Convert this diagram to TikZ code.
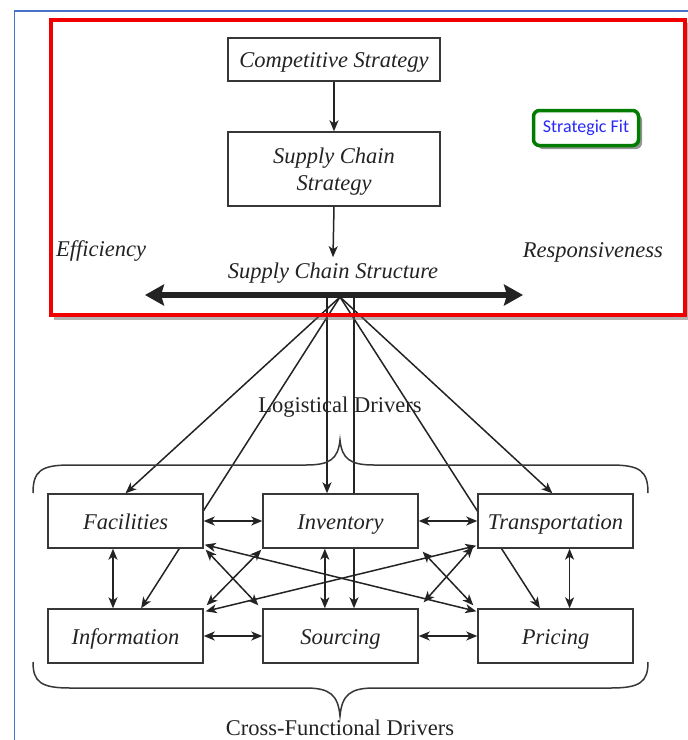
\documentclass[tikz,border=0pt]{standalone}
\usepackage{fontspec}
\setmainfont{Liberation Serif}
\newfontfamily\uifont{Carlito}
\usetikzlibrary{arrows.meta,calc,shadows}

\definecolor{ink}{RGB}{35,35,35}
\definecolor{boxline}{RGB}{55,55,55}
\definecolor{framered}{RGB}{240,0,0}
\definecolor{fitgreen}{RGB}{0,125,0}
\definecolor{fittext}{RGB}{40,40,250}
\definecolor{pageblue}{RGB}{70,115,200}

\pgfdeclarelayer{bg}
\pgfsetlayers{bg,main}

\begin{document}
\begin{tikzpicture}[x=1pt,y=-1pt,
  plain/.style={font=\fontsize{22.5}{27}\selectfont, text=ink, inner sep=2pt},
  slanted/.style={font=\fontsize{22.5}{27}\selectfont\itshape, text=ink, inner sep=2pt},
  box/.style={slanted, draw=boxline, line width=1.4pt, fill=white,
    minimum width=155pt, minimum height=54pt, inner sep=0pt,
    text height=16pt, text depth=0pt},
  conn/.style={draw=ink, line width=1.5pt},
  onehead/.style={-{Stealth[length=11pt,width=9pt,inset=3pt]}},
  twohead/.style={{Stealth[length=11pt,width=9pt,inset=3pt]}-{Stealth[length=11pt,width=9pt,inset=3pt]}},
  brace/.style={draw=boxline, line width=1.5pt},
]
\useasboundingbox (0,0) rectangle (688,740);

% page frame
\draw[pageblue, line width=1.5pt] (14.5,740) -- (14.5,11) -- (688,11);

% strategy block
\draw[black!60, opacity=0.5, line width=3pt] (54,318) -- (688,318) -- (688,23);
\draw[framered, line width=4pt] (51,20) rectangle (685,315);

\node[box, minimum width=212pt, minimum height=43pt] (cs) at (334,59.5) {Competitive Strategy};
\node[box, minimum width=212pt, minimum height=74pt, align=center,
  text height=43pt, text depth=0pt] (scs) at (334,169) {Supply Chain\\Strategy};
\node[slanted, anchor=base] (scst) at (333,278) {Supply Chain Structure};
\node[slanted, anchor=base west] (eff) at (54,256) {Efficiency};
\node[slanted, anchor=base east] (resp) at (665,257) {Responsiveness};

\node[draw=fitgreen, line width=3.5pt, rounded corners=6pt, fill=white,
  minimum width=105pt, minimum height=35pt, inner sep=0pt,
  font=\uifont\fontsize{18}{20}\selectfont, text=fittext,
  drop shadow={shadow xshift=3.5pt, shadow yshift=-3.5pt, fill=black!70, opacity=0.6}]
  (fit) at (586,128) {Strategic Fit};

\draw[conn, onehead] (cs) -- (scs);
\draw[conn, onehead] (scs.south) -- ([yshift=3pt]scst.north);

% efficiency / responsiveness axis
\coordinate (effEnd) at (145,295);
\coordinate (respEnd) at (523,295);
\draw[draw=ink, line width=6pt,
  {Stealth[length=19pt,width=21pt,inset=3pt]}-{Stealth[length=19pt,width=21pt,inset=3pt]}]
  (effEnd) -- (respEnd);

% drivers
\node[box] (fac)  at (125.5,521) {Facilities};
\node[box] (inv)  at (340.5,521) {Inventory};
\node[box] (tra)  at (555.5,521) {Transportation};
\node[box] (info) at (125.5,636) {Information};
\node[box] (sou)  at (340.5,636) {Sourcing};
\node[box] (pri)  at (555.5,636) {Pricing};

\node[plain, anchor=base] (cross) at (340,735) {Cross-Functional Drivers};

% braces
\draw[brace] (33,493) .. controls (33,471) and (41,465) .. (70,465) -- (306,465)
  .. controls (330,465) and (338,459) .. (340,440)
  .. controls (342,459) and (350,465) .. (374,465) -- (611,465)
  .. controls (640,465) and (648,471) .. (648,493);
\draw[brace] (33,662) .. controls (33,682) and (41,688) .. (70,688) -- (306,688)
  .. controls (330,688) and (338,695) .. (340,716)
  .. controls (342,695) and (350,688) .. (374,688) -- (611,688)
  .. controls (640,688) and (648,682) .. (648,662);

% structure to drivers
\coordinate (hub) at (340,297);
\coordinate (hubL) at (327,297);
\coordinate (hubR) at (354,297);
\begin{pgfonlayer}{bg}
\node[plain, anchor=base] (logi) at (340,412) {Logistical Drivers};
\draw[conn, onehead] (hub) -- (fac.north);
\draw[conn, onehead] (hub) -- ($(info.north west)!0.6!(info.north east)$);
\draw[conn, onehead] (hubL) -- (hubL |- inv.north);
\draw[conn, onehead] (hubR) -- (hubR |- sou.north);
\draw[conn, onehead] (hub) -- ($(pri.north west)!0.4!(pri.north east)$);
\draw[conn, onehead] (hub) -- ($(tra.north west)!0.48!(tra.north east)$);
\end{pgfonlayer}

% driver interactions
\coordinate (fv) at ($(fac.south west)!0.42!(fac.south east)$);
\coordinate (iv) at ($(inv.south west)!0.40!(inv.south east)$);
\coordinate (tv) at ($(tra.south west)!0.59!(tra.south east)$);
\draw[conn, twohead] (fac) -- (inv);
\draw[conn, twohead] (inv) -- (tra);
\draw[conn, twohead] (info) -- (sou);
\draw[conn, twohead] (sou) -- (pri);
\draw[conn, twohead] (fv) -- (fv |- info.north);
\draw[conn, twohead] (iv) -- (iv |- sou.north);
\draw[conn, twohead] (tv) -- (tv |- pri.north);
\draw[conn, twohead] ($(fac.south east)+(1,-4)$) -- ($(pri.north west)+(-1,3)$);
\draw[conn, twohead] ($(info.north east)+(2,3)$) -- ($(tra.south west)+(-1,-3)$);
\draw[conn, twohead] ($(fac.south east)+(2,1)$) -- ($(sou.north west)+(-4,-3)$);
\draw[conn, twohead] ($(inv.south west)+(-1,1)$) -- ($(info.north east)+(3,-3)$);
\draw[conn, twohead] ($(inv.south east)+(4,3)$) -- ($(pri.north west)+(-4,-3)$);
\draw[conn, twohead] ($(tra.south west)+(-4,-2)$) -- ($(sou.north east)+(5,-6)$);
\end{tikzpicture}
\end{document}
